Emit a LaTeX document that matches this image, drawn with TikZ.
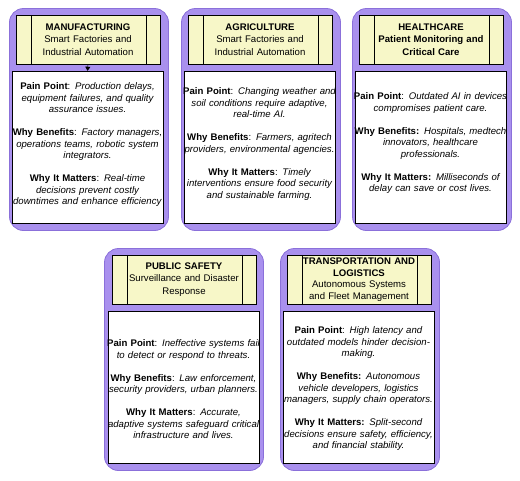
\documentclass[tikz,border=0pt]{standalone}
\usepackage{fontspec}
\setmainfont{Liberation Sans}
\usetikzlibrary{arrows.meta,positioning}
\definecolor{cardpurple}{HTML}{A990EE}
\definecolor{cardedge}{HTML}{8B70DA}
\definecolor{hdyellow}{HTML}{F7F7C8}
\newcommand{\cardentry}[2]{\textbf{#1}: \textit{#2}}
\newcommand{\hdlines}[1]{\draw ([xshift=15pt]#1.north west) -- ([xshift=15pt]#1.south west); \draw ([xshift=-14pt]#1.north east) -- ([xshift=-14pt]#1.south east);}

\begin{document}
\begin{tikzpicture}[x=1pt,y=-1pt,
  card/.style={rectangle,rounded corners=14pt,fill=cardpurple,draw=cardedge,line width=0.8pt,minimum width=159pt,minimum height=222pt,inner sep=0pt},
  hdbox/.style={rectangle,draw=black,line width=0.5pt,fill=hdyellow,minimum width=144pt,minimum height=49pt,inner sep=0pt,text width=140pt,align=center,font=\fontsize{9.6}{12.5}\selectfont},
  bdbox/.style={rectangle,draw=black,line width=0.5pt,fill=white,minimum width=151pt,minimum height=152pt,inner sep=0pt},
  bdtxt/.style={inner sep=0pt,text width=176pt,align=center,font=\fontsize{9.6}{11.5}\selectfont,execute at begin node={\hyphenpenalty=10000}}]
\useasboundingbox (0,0) rectangle (520,480);
% top row
\node[card] (cdA) at (89,119.5) {}; \node[card] (cdB) at (261,119.5) {}; \node[card] (cdC) at (432,119.5) {};
\node[card] (cdD) at (184,359.5) {}; \node[card] (cdE) at (360,359.5) {};
\node[hdbox] (hdA) at (88,39.5) {\textbf{MANUFACTURING}\\ Smart Factories and\\ Industrial Automation};
\node[hdbox] (hdB) at (260,39.5) {\textbf{AGRICULTURE}\\ Smart Factories and\\ Industrial Automation};
\node[hdbox] (hdC) at (431,39.5) {\textbf{HEALTHCARE}\\ \textbf{Patient Monitoring and}\\ \textbf{Critical Care}};
\hdlines{hdA} \hdlines{hdB} \hdlines{hdC}
\node[bdbox] (bdA) at (87.5,147) {}; \node[bdbox] (bdB) at (259.5,147) {}; \node[bdbox] (bdC) at (430.5,147) {};
\draw[-{Triangle[length=4pt,width=5pt]}] (hdA.south) -- (bdA.north);
\node[bdtxt,below=11.6pt of bdA.north] (txA) {\cardentry{Pain Point}{Production delays,\\ equipment failures, and quality\\ assurance issues.}\\[11.5pt]
  \cardentry{Why Benefits}{Factory managers,\\ operations teams, robotic system\\ integrators.}\\[11.5pt]
  \cardentry{Why It Matters}{Real-time\\ decisions prevent costly\\ downtimes and enhance efficiency}};
\node[bdtxt,below=17pt of bdB.north] (txB) {\cardentry{Pain Point}{Changing weather and\\ soil conditions require adaptive,\\ real-time AI.}\\[11.5pt]
  \cardentry{Why Benefits}{Farmers, agritech\\ providers, environmental agencies.}\\[11.5pt]
  \cardentry{Why It Matters}{Timely\\ interventions ensure food security\\ and sustainable farming.}};
\node[bdtxt,below=21.6pt of bdC.north] (txC) {\cardentry{Pain Point}{Outdated AI in devices\\ compromises patient care.}\\[11.5pt]
  \textbf{Why Benefits:} \textit{Hospitals, medtech\\ innovators, healthcare\\ professionals.}\\[11.5pt]
  \textbf{Why It Matters:} \textit{Milliseconds of\\ delay can save or cost lives.}};
% bottom row
\node[hdbox] (hdD) at (184,279.5) {\textbf{PUBLIC SAFETY}\\ Surveillance and Disaster\\ Response};
\node[hdbox,font=\fontsize{9.6}{11.5}\selectfont] (hdE) at (359,279.5) {\textbf{TRANSPORTATION AND}\\ \textbf{LOGISTICS}\\ Autonomous Systems\\ and Fleet Management};
\hdlines{hdD} \hdlines{hdE}
\node[bdbox] (bdD) at (183.5,387) {}; \node[bdbox] (bdE) at (358.5,387) {};
\node[bdtxt,below=28.6pt of bdD.north] (txD) {\cardentry{Pain Point}{Ineffective systems fail\\ to detect or respond to threats.}\\[11.5pt]
  \cardentry{Why Benefits}{Law enforcement,\\ security providers, urban planners.}\\[11.5pt]
  \cardentry{Why It Matters}{Accurate,\\ adaptive systems safeguard critical\\ infrastructure and lives.}};
\node[bdtxt,below=15.6pt of bdE.north] (txE) {\cardentry{Pain Point}{High latency and\\ outdated models hinder decision-\\making.}\\[11.5pt]
  \textbf{Why Benefits:} \textit{Autonomous\\ vehicle developers, logistics\\ managers, supply chain operators.}\\[11.5pt]
  \textbf{Why It Matters:} \textit{Split-second\\ decisions ensure safety, efficiency,\\ and financial stability.}};
\end{tikzpicture}
\end{document}
